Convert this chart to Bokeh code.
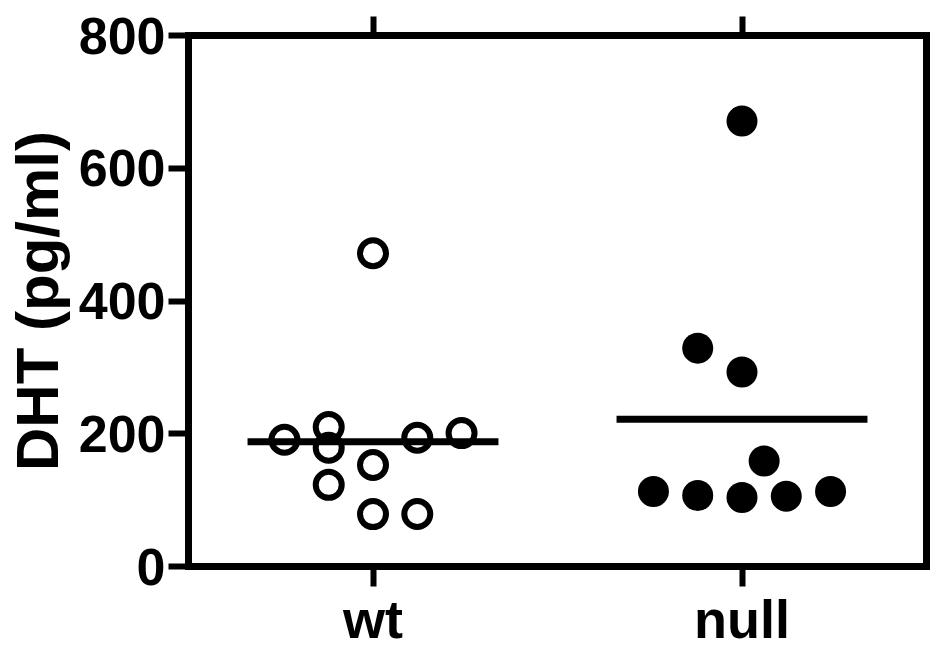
from bokeh.plotting import figure
from bokeh.models import Range1d, LinearAxis, FixedTicker
from bokeh.embed import file_html
from bokeh.resources import INLINE
import numpy as np

# ---- data ----
groups = ["wt", "null"]
group_pos = [1, 2]
wt_values = [191, 210, 179, 123, 153, 79, 79, 194, 201, 472]
wt_slots = [-2, -1, -1, -1, 0, 0, 1, 1, 2, 0]
null_values = [329, 293, 159, 113, 107, 104, 106, 113, 671]
null_slots = [-1, 0, 0.5, -2, -1, 0, 1, 2, 0]
y_ticks = [0, 200, 400, 600, 800]
y_label = "DHT (pg/ml)"

SLOT = 0.12      # horizontal spacing between scattered points (category units)
HALF = 0.34      # half width of the mean line (category units)
FONT = "Liberation Sans"

p = figure(width=930, height=651,
           x_range=Range1d(0.5, 2.5), y_range=Range1d(0, 800),
           output_backend="svg", toolbar_location=None,
           min_border_left=182, min_border_top=35,
           min_border_right=4, min_border_bottom=82)
p.grid.visible = False
p.outline_line_color = None
p.background_fill_color = "white"
p.border_fill_color = "white"


def style(ax, tick_out, standoff, size="54px"):
    ax.axis_line_width = 7
    ax.axis_line_color = "black"
    ax.axis_line_cap = "square"
    ax.major_tick_line_width = 6
    ax.major_tick_line_color = "black"
    ax.major_tick_out = tick_out
    ax.major_tick_in = 0
    ax.minor_tick_out = 0
    ax.minor_tick_in = 0
    ax.major_label_text_font = FONT
    ax.major_label_text_font_style = "bold"
    ax.major_label_text_font_size = size
    ax.major_label_text_color = "black"
    ax.major_label_standoff = standoff


left = p.yaxis[0]
left.ticker = FixedTicker(ticks=y_ticks)
style(left, 20, 3, "52px")
left.axis_label = y_label
left.axis_label_text_font = FONT
left.axis_label_text_font_style = "bold"
left.axis_label_text_font_size = "60px"
left.axis_label_text_color = "black"
left.axis_label_standoff = 5

bottom = p.xaxis[0]
bottom.ticker = FixedTicker(ticks=group_pos)
bottom.major_label_overrides = {g: name for g, name in zip(group_pos, groups)}
style(bottom, 20, 2)

top = LinearAxis(ticker=FixedTicker(ticks=group_pos))
style(top, 19, 0)
top.major_label_overrides = {g: "" for g in group_pos}
p.add_layout(top, "above")

right = LinearAxis(ticker=FixedTicker(ticks=y_ticks))
style(right, 4, 0)
right.major_label_overrides = {t: "" for t in y_ticks}
p.add_layout(right, "right")

# mean lines
means = [float(np.mean(wt_values)), float(np.mean(null_values))]
p.segment(x0=[g - HALF for g in group_pos], x1=[g + HALF for g in group_pos],
          y0=means, y1=means, line_width=7, line_color="black")

# points
wt_x = [group_pos[0] + s * SLOT for s in wt_slots]
null_x = [group_pos[1] + s * SLOT for s in null_slots]
p.scatter(wt_x, wt_values, marker="circle", size=26, fill_color=None,
          line_color="black", line_width=6)
p.scatter(null_x, null_values, marker="circle", size=31, fill_color="black",
          line_color="black", line_width=0)

open("out.html", "w").write(file_html(p, INLINE))
